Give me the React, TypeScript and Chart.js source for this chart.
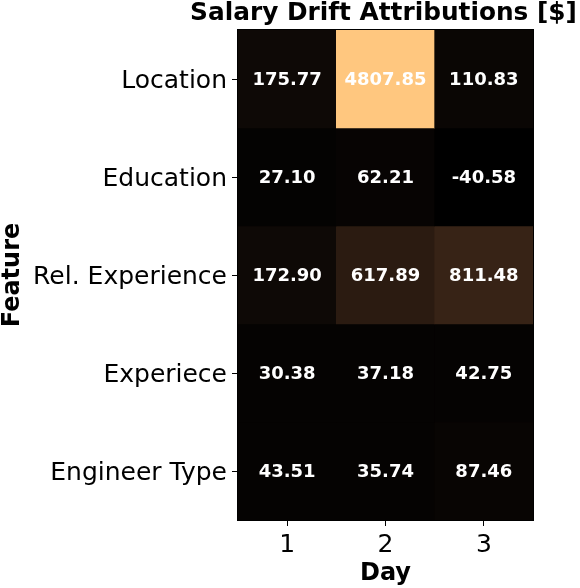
import React, { useEffect, useRef } from "react";
import { Chart, registerables } from "chart.js";

Chart.register(...registerables);

const days: string[] = ["1", "2", "3"];
const features: string[] = ["Location", "Education", "Rel. Experience", "Experiece", "Engineer Type"];
const location: number[] = [175.77, 4807.85, 110.83];
const education: number[] = [27.1, 62.21, -40.58];
const relExperience: number[] = [172.9, 617.89, 811.48];
const experiece: number[] = [30.38, 37.18, 42.75];
const engineerType: number[] = [43.51, 35.74, 87.46];
const rows: number[][] = [location, education, relExperience, experiece, engineerType];

const allVals = rows.flat();
const vmin = Math.min(...allVals);
const vmax = Math.max(...allVals);

function copper(v: number): string {
  let t = (v - vmin) / (vmax - vmin);
  t = Math.max(0, Math.min(1, t));
  const r = Math.min(1, t / 0.809524);
  const g = 0.7812 * t;
  const b = 0.4975 * t;
  return `rgb(${Math.round(r * 255)},${Math.round(g * 255)},${Math.round(b * 255)})`;
}

const FONT = "'DejaVu Sans', sans-serif";

const cellLabels = {
  id: "cellLabels",
  afterDatasetsDraw(chart: any) {
    const ctx = chart.ctx;
    const xs = chart.scales.x;
    const ys = chart.scales.y;
    ctx.save();
    ctx.fillStyle = "#ffffff";
    ctx.font = `bold 18px ${FONT}`;
    ctx.textAlign = "center";
    ctx.textBaseline = "middle";
    rows.forEach((row, r) => {
      row.forEach((v, c) => {
        const x = xs.getPixelForValue(c);
        const y = ys.getPixelForValue(r + 0.5);
        ctx.fillText(v.toFixed(2), x, y + 1);
      });
    });
    const a = chart.chartArea;
    ctx.strokeStyle = "#000000";
    ctx.lineWidth = 1;
    ctx.strokeRect(a.left - 0.5, a.top - 0.5, a.right - a.left + 1, a.bottom - a.top + 1);
    ctx.fillStyle = "#000000";
    ctx.font = `bold 24.8px ${FONT}`;
    ctx.textBaseline = "alphabetic";
    ctx.fillText("Salary Drift Attributions [$]", (a.left + a.right) / 2 - 2, 20);
    ctx.restore();
  },
};

export default function App() {
  const ref = useRef<HTMLCanvasElement | null>(null);
  useEffect(() => {
    document.body.style.margin = "0";
    if (!ref.current) return;
    const chart = new Chart(ref.current, {
      type: "bar",
      data: {
        labels: days,
        datasets: rows.map((row, r) => ({
          label: features[r],
          data: row.map(() => 1),
          backgroundColor: row.map((v) => copper(v)),
          borderWidth: 0,
          barPercentage: 1,
          categoryPercentage: 1,
          borderSkipped: false,
        })),
      },
      options: {
        animation: false,
        responsive: false,
        devicePixelRatio: 1,
        layout: { padding: { top: 30, right: 47, left: 0, bottom: 0 } },
        plugins: {
          legend: { display: false },
          tooltip: { enabled: false },
          title: { display: false },
        },
        scales: {
          x: {
            stacked: true,
            offset: true,
            grid: { offset: false, drawOnChartArea: false, drawTicks: true, tickLength: 6, color: "#000", lineWidth: 1 },
            border: { display: true, color: "#000" },
            ticks: { color: "#000", font: { family: FONT, size: 25 }, padding: 4, maxRotation: 0 },
            title: {
              display: true,
              text: "Day",
              color: "#000",
              font: { family: FONT, size: 24, weight: "bold", lineHeight: 1 },
              padding: { top: 0, bottom: 2 },
            },
            afterFit: (scale: any) => {
              scale.height = 68;
            },
          },
          y: {
            stacked: true,
            reverse: true,
            min: 0,
            max: 5,
            grid: { drawOnChartArea: false, drawTicks: true, tickLength: 6, color: "#000", lineWidth: 1 },
            border: { display: true, color: "#000" },
            afterBuildTicks: (scale: any) => {
              scale.ticks = features.map((_, i) => ({ value: i + 0.5 }));
            },
            ticks: {
              color: "#000",
              font: { family: FONT, size: 25 },
              padding: 5,
              labelOffset: 2,
              callback: (value: any) => features[Math.floor(Number(value))] ?? "",
            },
            title: {
              display: true,
              text: "Feature",
              color: "#000",
              font: { family: FONT, size: 24, weight: "bold", lineHeight: 1 },
              padding: { top: 1, bottom: 0 },
            },
            afterFit: (scale: any) => {
              scale.width = 238;
            },
          },
        },
      },
      plugins: [cellLabels],
    });
    return () => chart.destroy();
  }, []);
  return (
    <div style={{ width: 580, height: 588 }}>
      <canvas ref={ref} width={580} height={588} style={{ display: "block" }} />
    </div>
  );
}
